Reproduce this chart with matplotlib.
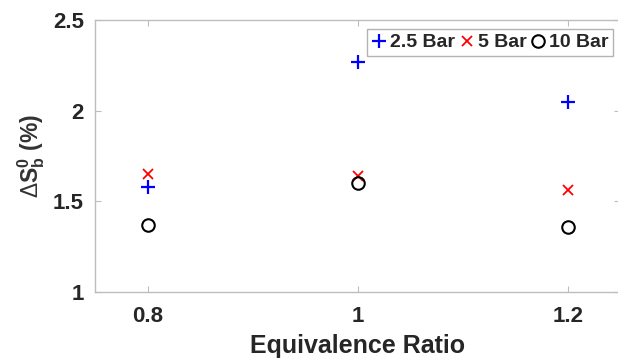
import matplotlib
matplotlib.use("Agg")
import matplotlib.pyplot as plt

phi = [0.8, 1.0, 1.2]
bar25 = [1.58, 2.27, 2.05]
bar5 = [1.65, 1.64, 1.56]
bar10 = [1.37, 1.60, 1.36]
xticks = [0.8, 1.0, 1.2]
xticklabels = ["0.8", "1", "1.2"]
yticks = [1, 1.5, 2, 2.5]
yticklabels = ["1", "1.5", "2", "2.5"]

plt.rcParams['font.family'] = ['Liberation Sans', 'DejaVu Sans']
plt.rcParams['mathtext.fontset'] = 'custom'
plt.rcParams['mathtext.rm'] = 'Liberation Sans'
plt.rcParams['mathtext.bf'] = 'Liberation Sans:bold'
plt.rcParams['mathtext.it'] = 'Liberation Sans:italic'

fig = plt.figure(figsize=(6.18, 3.6), dpi=100)
ax = fig.add_axes([95/618, 68/360, 1.004 - 95/618, (292-20)/360])

ax.plot(phi, bar25, linestyle='none', marker='+', color='#0000ff', markersize=10, markeredgewidth=1.6, label='2.5 Bar')
ax.plot(phi, bar5, linestyle='none', marker='x', color='#ff0000', markersize=7, markeredgewidth=1.3, label='5 Bar')
ax.plot(phi, bar10, linestyle='none', marker='o', color='black', markerfacecolor='none', markersize=9, markeredgewidth=1.5, label='10 Bar')

ax.set_xlim(0.75, 1.25)
ax.set_ylim(1, 2.5)
ax.set_xticks(xticks)
ax.set_xticklabels(xticklabels)
ax.set_yticks(yticks)
ax.set_yticklabels(yticklabels)

spine_c = '#bdbdbd'
for s in ax.spines.values():
    s.set_color(spine_c)
    s.set_linewidth(1.0)
ax.tick_params(direction='in', length=4, width=0.8, color=spine_c, top=True, right=True,
               labelsize=16, labelcolor='#262626', pad=8)
ax.tick_params(axis='x', pad=10)
for lab in ax.get_xticklabels() + ax.get_yticklabels():
    lab.set_fontweight('bold')

ax.set_xlabel('Equivalence Ratio', fontsize=18, fontweight='bold', color='#262626', labelpad=5)
ax.set_ylabel(r'$\Delta\mathbf{S}_{\mathbf{b}}^{\mathbf{0}}$ (%)', fontsize=16.5, fontweight='bold',
              color='#333333', labelpad=4)

leg = fig.legend(loc='upper right', bbox_to_anchor=(613/618, 1 - 29/360), bbox_transform=fig.transFigure,
                 ncol=3, frameon=True, fancybox=False, borderaxespad=0, handlelength=0.8,
                 handletextpad=0.15, columnspacing=0.2, borderpad=0.25,
                 prop={'family': 'Liberation Sans', 'weight': 'bold', 'size': 14})
leg.get_frame().set_edgecolor('#a0a0a0')
leg.get_frame().set_linewidth(1.0)
for t in leg.get_texts():
    t.set_color('#262626')

fig.savefig('out.png', dpi=100)
